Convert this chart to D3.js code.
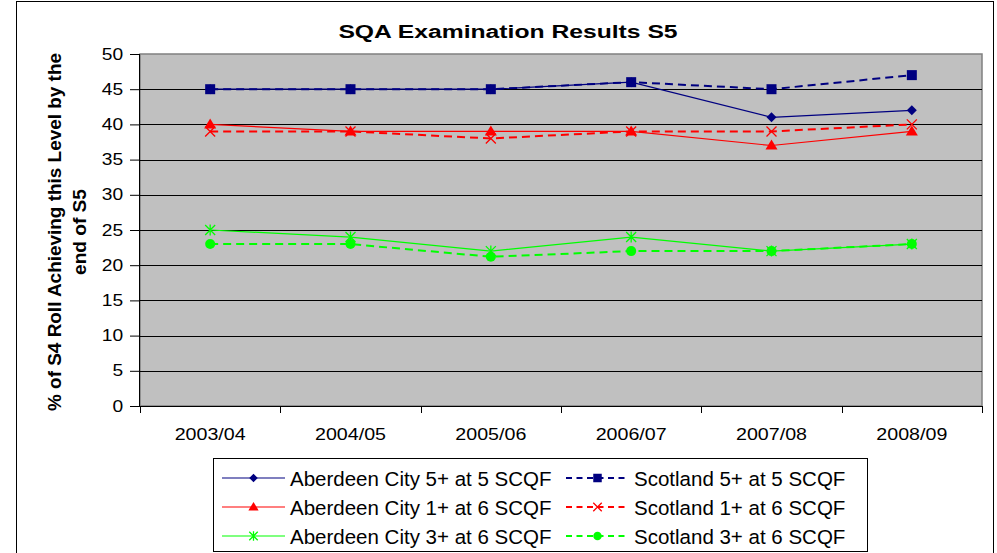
<!DOCTYPE html>
<html>
<head>
<meta charset="utf-8">
<script src="https://cdn.jsdelivr.net/npm/d3@7"></script>
<style>
  body { margin: 0; background: #fff; }
  svg { display: block; font-family: Arial, "Liberation Sans", sans-serif; }
</style>
</head>
<body>
<div id="chart"></div>
<script>
// 数据
const years = ["2003/04", "2004/05", "2005/06", "2006/07", "2007/08", "2008/09"];
const aberdeen5 = [45, 45, 45, 46, 41, 42];
const scotland5 = [45, 45, 45, 46, 45, 47];
const aberdeen1 = [40, 39, 39, 39, 37, 39];
const scotland1 = [39, 39, 38, 39, 39, 40];
const aberdeen3 = [25, 24, 22, 24, 22, 23];
const scotland3 = [23, 23, 21.2, 22, 22, 23];
const yTicks = [0, 5, 10, 15, 20, 25, 30, 35, 40, 45, 50];

const series = [
    { name: "Aberdeen City 5+ at 5 SCQF", values: aberdeen5, color: "#000080", dashed: false, marker: "diamond" },
    { name: "Scotland 5+ at 5 SCQF", values: scotland5, color: "#000080", dashed: true, marker: "square" },
    { name: "Aberdeen City 1+ at 6 SCQF", values: aberdeen1, color: "#ff0000", dashed: false, marker: "triangle" },
    { name: "Scotland 1+ at 6 SCQF", values: scotland1, color: "#ff0000", dashed: true, marker: "cross" },
    { name: "Aberdeen City 3+ at 6 SCQF", values: aberdeen3, color: "#00ff00", dashed: false, marker: "asterisk" },
    { name: "Scotland 3+ at 6 SCQF", values: scotland3, color: "#00ff00", dashed: true, marker: "circle" }
];

const W = 997, H = 553;
const plot = { left: 140, top: 54, right: 982, bottom: 406 };

const svg = d3.select("#chart").append("svg")
    .attr("width", W)
    .attr("height", H);

// 外框
svg.append("rect")
    .attr("x", 16.5).attr("y", 1.5)
    .attr("width", 977).attr("height", 600)
    .attr("fill", "#fff").attr("stroke", "#000").attr("stroke-width", 1);

// 比例尺
const x = d3.scaleBand()
    .domain(years)
    .range([plot.left, plot.right]);

const y = d3.scaleLinear()
    .domain([0, 50])
    .range([plot.bottom, plot.top]);

// 绘图区背景
svg.append("rect")
    .attr("x", plot.left).attr("y", plot.top)
    .attr("width", plot.right - plot.left).attr("height", plot.bottom - plot.top)
    .attr("fill", "#c0c0c0")
    .attr("stroke", "#808080").attr("stroke-width", 1.5);

// 网格线
svg.append("g")
    .selectAll("line")
    .data(yTicks.filter(d => d > 0 && d < 50))
    .enter()
    .append("line")
    .attr("x1", plot.left).attr("x2", plot.right)
    .attr("y1", d => Math.round(y(d)) + 0.5).attr("y2", d => Math.round(y(d)) + 0.5)
    .attr("stroke", "#000").attr("stroke-width", 1);

// Y轴
const yAxis = svg.append("g")
    .attr("transform", `translate(${plot.left},0)`)
    .call(d3.axisLeft(y).tickValues(yTicks).tickSize(10).tickPadding(5));
yAxis.selectAll("text")
    .style("font-size", "16px")
    .attr("fill", "#000")
    .attr("x", -14)
    .attr("transform", "scale(1.2,1)");
yAxis.selectAll("line").attr("stroke", "#000");
yAxis.select(".domain").attr("stroke", "#000").attr("d", `M-0.5,${plot.top}V${plot.bottom}`);

// X轴
const xAxis = svg.append("g")
    .attr("transform", `translate(0,${plot.bottom})`)
    .call(d3.axisBottom(x).tickSize(0).tickPadding(22));
xAxis.selectAll("text")
    .style("font-size", "16.5px")
    .attr("fill", "#000")
    .attr("transform", "scale(1.19,1)")
    .attr("x", function() {
        // 以刻度中心缩放
        return 0;
    });
xAxis.selectAll(".tick").each(function() {
    const t = d3.select(this);
    const tx = +t.attr("transform").match(/translate\(([-\d.]+)/)[1];
    t.attr("transform", `translate(${tx},0)`);
});
xAxis.select(".domain").attr("stroke", "#000").attr("d", `M${plot.left},0.5H${plot.right}`);

// X轴刻度（分组边界）
const bounds = years.map(d => x(d)).concat([x(years[years.length - 1]) + x.bandwidth()]);
svg.append("g")
    .selectAll("line")
    .data(bounds)
    .enter()
    .append("line")
    .attr("x1", d => Math.round(d) + 0.5).attr("x2", d => Math.round(d) + 0.5)
    .attr("y1", plot.bottom).attr("y2", plot.bottom + 7)
    .attr("stroke", "#000");

// 标题
svg.append("text")
    .attr("transform", "translate(508,38) scale(1.3,1)")
    .attr("text-anchor", "middle")
    .style("font-size", "19px").style("font-weight", "bold")
    .text("SQA Examination Results S5");

// Y轴标题
const yTitle = svg.append("text")
    .attr("transform", "translate(61,232) rotate(-90)")
    .attr("text-anchor", "middle")
    .style("font-size", "17.5px").style("font-weight", "bold");
yTitle.append("tspan").attr("x", 0).attr("y", 0)
    .attr("textLength", 358).attr("lengthAdjust", "spacingAndGlyphs")
    .text("% of S4 Roll Achieving this Level by the");
yTitle.append("tspan").attr("x", 0).attr("y", 25)
    .attr("textLength", 86).attr("lengthAdjust", "spacingAndGlyphs")
    .text("end of S5");

// 标记
function drawMarker(g, type, color, size) {
    const s = size || 1;
    if (type === "diamond") {
        g.append("path").attr("d", `M0,${-5 * s}L${5 * s},0L0,${5 * s}L${-5 * s},0Z`).attr("fill", color);
    } else if (type === "square") {
        g.append("rect").attr("x", -5 * s).attr("y", -5 * s).attr("width", 10 * s).attr("height", 10 * s).attr("fill", color);
    } else if (type === "triangle") {
        g.append("path").attr("d", `M0,${-6 * s}L${6 * s},${4 * s}L${-6 * s},${4 * s}Z`).attr("fill", color);
    } else if (type === "cross") {
        g.append("path").attr("d", `M${-5 * s},${-5 * s}L${5 * s},${5 * s}M${5 * s},${-5 * s}L${-5 * s},${5 * s}`)
            .attr("stroke", color).attr("stroke-width", 1.3).attr("fill", "none");
    } else if (type === "asterisk") {
        g.append("path").attr("d", `M${-5 * s},${-5 * s}L${5 * s},${5 * s}M${5 * s},${-5 * s}L${-5 * s},${5 * s}M0,${-5.5 * s}L0,${5.5 * s}`)
            .attr("stroke", color).attr("stroke-width", 1.3).attr("fill", "none");
    } else if (type === "circle") {
        g.append("circle").attr("r", 5 * s).attr("fill", color);
    }
}

const line = d3.line()
    .x((d, i) => x(years[i]) + x.bandwidth() / 2)
    .y(d => y(d));

series.forEach(s => {
    svg.append("path")
        .datum(s.values)
        .attr("d", line)
        .attr("fill", "none")
        .attr("stroke", s.color)
        .attr("stroke-width", s.dashed ? 2 : 1.2)
        .attr("stroke-dasharray", s.dashed ? "8,5" : null);
});

series.forEach(s => {
    s.values.forEach((v, i) => {
        const g = svg.append("g")
            .attr("transform", `translate(${x(years[i]) + x.bandwidth() / 2},${y(v)})`);
        drawMarker(g, s.marker, s.color);
    });
});

// 图例
svg.append("rect")
    .attr("x", 213.5).attr("y", 458.5)
    .attr("width", 654).attr("height", 93)
    .attr("fill", "#fff").attr("stroke", "#000").attr("stroke-width", 1);

series.forEach((s, i) => {
    const col = i % 2, row = Math.floor(i / 2);
    const lx = col === 0 ? 222 : 566;
    const ly = 478 + row * 29;
    svg.append("line")
        .attr("x1", lx).attr("x2", lx + 63)
        .attr("y1", ly).attr("y2", ly)
        .attr("stroke", s.color)
        .attr("stroke-width", s.dashed ? 2 : 1.2)
        .attr("stroke-dasharray", s.dashed ? "6,4.5" : null);
    const g = svg.append("g").attr("transform", `translate(${lx + 31.5},${ly})`);
    drawMarker(g, s.marker, s.color, 0.85);
    svg.append("text")
        .attr("x", lx + 68).attr("y", ly + 8)
        .style("font-size", "20.5px")
        .text(s.name);
});
</script>
</body>
</html>
